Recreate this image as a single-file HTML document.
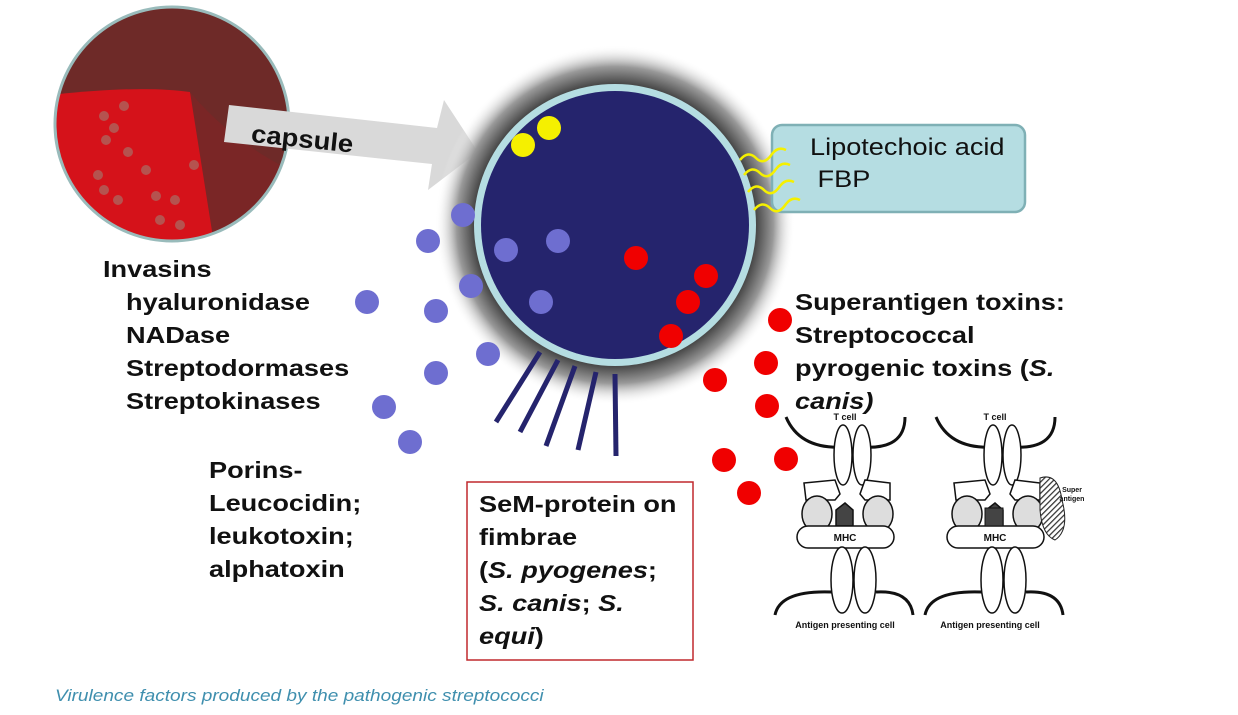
<!DOCTYPE html>
<html><head><meta charset="utf-8"><style>
body{margin:0;background:#fff;width:1238px;height:715px;overflow:hidden;font-family:"Liberation Sans",sans-serif}
.t{position:absolute;font-weight:bold;font-size:23px;color:#111;line-height:33px;transform:scaleX(1.18);transform-origin:0 0;white-space:nowrap}
</style></head><body>
<svg width="1238" height="715" style="position:absolute;left:0;top:0">
<defs>
<radialGradient id="glow" cx="50%" cy="50%" r="50%">
<stop offset="76%" stop-color="#333"/><stop offset="88%" stop-color="#999"/><stop offset="100%" stop-color="#fff" stop-opacity="0"/>
</radialGradient>
<clipPath id="pc"><circle cx="172" cy="124" r="117"/></clipPath>
<pattern id="hatch" width="4" height="4" patternUnits="userSpaceOnUse" patternTransform="rotate(45)"><rect width="4" height="4" fill="#fff"/><line x1="0" y1="0" x2="0" y2="4" stroke="#333" stroke-width="2.5"/></pattern>
</defs>
<!-- plate -->
<g clip-path="url(#pc)">
<rect x="50" y="0" width="250" height="250" fill="#6e2a28"/>
<path d="M50 95 Q140 85 190 92 Q205 150 215 250 L50 250Z" fill="#d5121a"/>
<path d="M190 92 Q230 140 290 170 L290 250 L215 250Z" fill="#7a2626"/>
<g fill="#b0605a" opacity=".85">
<circle cx="104" cy="116" r="5"/><circle cx="124" cy="106" r="5"/><circle cx="114" cy="128" r="5"/><circle cx="106" cy="140" r="5"/><circle cx="128" cy="152" r="5"/><circle cx="98" cy="175" r="5"/><circle cx="146" cy="170" r="5"/><circle cx="156" cy="196" r="5"/><circle cx="175" cy="200" r="5"/><circle cx="118" cy="200" r="5"/><circle cx="194" cy="165" r="5"/><circle cx="160" cy="220" r="5"/><circle cx="180" cy="225" r="5"/><circle cx="104" cy="190" r="5"/>
</g>
</g>
<circle cx="172" cy="124" r="117" fill="none" stroke="#9bb" stroke-width="3"/>
<!-- arrow -->
<polygon points="229,105 437,128 444,100 478,152 428,190 432,164 224,142" fill="#d9d9d9"/>
<!-- cell -->
<circle cx="615" cy="225" r="180" fill="url(#glow)"/>
<circle cx="615" cy="225" r="141" fill="#b5dde2"/>
<circle cx="615" cy="225" r="134" fill="#25246d"/>
<g stroke="#25246d" stroke-width="5">
<line x1="540" y1="352" x2="496" y2="422"/><line x1="558" y1="360" x2="520" y2="432"/><line x1="575" y1="366" x2="546" y2="446"/><line x1="596" y1="372" x2="578" y2="450"/><line x1="615" y1="374" x2="616" y2="456"/>
</g>
<rect x="772" y="125" width="253" height="87" rx="10" fill="#b5dde2" stroke="#7fb0b5" stroke-width="2.5"/>
<g stroke="#f5f000" stroke-width="2.5" fill="none">
<path d="M740 160 q8 -10 16 -2 q8 8 16 -4 q6 -8 14 -4"/>
<path d="M744 175 q8 -10 16 -2 q8 8 16 -4 q6 -8 14 -4"/>
<path d="M748 192 q8 -10 16 -2 q8 8 16 -4 q6 -8 14 -4"/>
<path d="M754 210 q8 -10 16 -2 q8 8 16 -4 q6 -8 14 -4"/>
</g>
<circle cx="523" cy="145" r="12" fill="#f5f000"/><circle cx="549" cy="128" r="12" fill="#f5f000"/>
<g fill="#6e6ed0">
<circle cx="463" cy="215" r="12"/><circle cx="428" cy="241" r="12"/><circle cx="506" cy="250" r="12"/><circle cx="558" cy="241" r="12"/><circle cx="471" cy="286" r="12"/><circle cx="367" cy="302" r="12"/><circle cx="436" cy="311" r="12"/><circle cx="541" cy="302" r="12"/><circle cx="488" cy="354" r="12"/><circle cx="436" cy="373" r="12"/><circle cx="384" cy="407" r="12"/><circle cx="410" cy="442" r="12"/>
</g>
<g fill="#f00000">
<circle cx="636" cy="258" r="12"/><circle cx="706" cy="276" r="12"/><circle cx="688" cy="302" r="12"/><circle cx="671" cy="336" r="12"/><circle cx="780" cy="320" r="12"/><circle cx="766" cy="363" r="12"/><circle cx="715" cy="380" r="12"/><circle cx="767" cy="406" r="12"/><circle cx="724" cy="460" r="12"/><circle cx="786" cy="459" r="12"/><circle cx="749" cy="493" r="12"/>
</g>
<rect x="467" y="482" width="226" height="178" fill="#fff" stroke="#c0282d" stroke-width="1.5"/>
<g id="tcr" stroke="#111" stroke-width="1.5" fill="#fff" font-family="Liberation Sans" font-weight="bold">
<path d="M786 417 Q800 450 845 447 M862 447 Q905 450 905 417" fill="none" stroke-width="3"/>
<ellipse cx="843" cy="455" rx="9" ry="30"/><ellipse cx="862" cy="455" rx="9" ry="30"/>
<path d="M804 483 L835 480 L840 494 L835 500 L806 500Z"/><path d="M890 483 L865 480 L860 494 L865 500 L890 500Z"/>
<ellipse cx="817" cy="514" rx="15" ry="18" fill="#ddd"/><ellipse cx="878" cy="514" rx="15" ry="18" fill="#ddd"/>
<path d="M836 526 V510 L845 503 L853 510 V526Z" fill="#444"/>
<rect x="797" y="526" width="97" height="22" rx="11"/>
<ellipse cx="842" cy="580" rx="11" ry="33"/><ellipse cx="865" cy="580" rx="11" ry="33"/>
<path d="M775 615 Q780 590 832 592 M876 592 Q910 590 913 615" fill="none" stroke-width="3"/>
</g>
<use href="#tcr" x="150"/>
<path d="M1040 478 Q1058 472 1062 500 Q1070 530 1055 540 Q1042 535 1040 510Z" fill="url(#hatch)" stroke="#222"/>
<rect x="985" y="508" width="18" height="18" fill="#444" stroke="#111"/>
<g font-size="9" font-weight="bold" fill="#111" text-anchor="middle">
<text x="845" y="420">T cell</text><text x="995" y="420">T cell</text>
<text x="845" y="541" font-size="10">MHC</text><text x="995" y="541" font-size="10">MHC</text>
<text x="845" y="628">Antigen presenting cell</text><text x="990" y="628">Antigen presenting cell</text>
<text x="1072" y="492" font-size="7">Super</text><text x="1072" y="501" font-size="7">antigen</text>
</g>
</svg>
<div class="t" style="left:253px;top:118px;transform:rotate(6deg) scaleX(1.1);font-size:25px">capsule</div>
<div style="position:absolute;left:810px;top:132px;font-size:24px;line-height:32px;color:#111;transform:scaleX(1.13);transform-origin:0 0;white-space:nowrap">Lipotechoic acid<br>&nbsp;FBP</div>
<div class="t" style="left:103px;top:253px">Invasins</div>
<div class="t" style="left:126px;top:286px">hyaluronidase<br>NADase<br>Streptodormases<br>Streptokinases</div>
<div class="t" style="left:209px;top:454px">Porins-<br>Leucocidin;<br>leukotoxin;<br>alphatoxin</div>
<div class="t" style="left:479px;top:488px">SeM-protein on<br>fimbrae<br>(<i>S. pyogenes</i>;<br><i>S. canis</i>; <i>S.<br>equi</i>)</div>
<div class="t" style="left:795px;top:286px">Superantigen toxins:<br>Streptococcal<br>pyrogenic toxins (<i>S.<br>canis)</i></div>
<div style="position:absolute;left:55px;top:686px;font-style:italic;font-size:17px;color:#3f8fae;transform:scaleX(1.12);transform-origin:0 0;white-space:nowrap">Virulence factors produced by the pathogenic streptococci</div>
</body></html>
